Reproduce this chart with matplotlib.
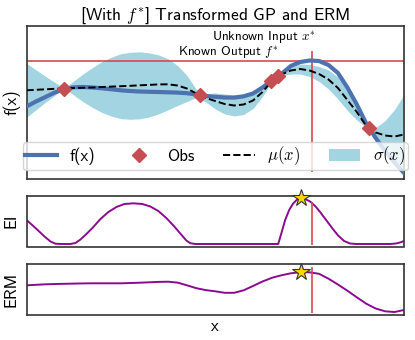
import numpy as np
import matplotlib
matplotlib.use("Agg")
import matplotlib.pyplot as plt

plt.rcParams['font.family'] = ['cmss10', 'DejaVu Sans']
plt.rcParams['mathtext.fontset'] = 'cm'
plt.rcParams['axes.unicode_minus'] = False

# ---------------- data ----------------
x = [0.0, 0.025, 0.05, 0.075, 0.1, 0.125, 0.15, 0.175, 0.2, 0.225,
     0.25, 0.275, 0.3, 0.325, 0.35, 0.375, 0.4, 0.425, 0.45, 0.475,
     0.5, 0.525, 0.55, 0.575, 0.6, 0.625, 0.65, 0.675, 0.7, 0.725,
     0.75, 0.775, 0.8, 0.825, 0.85, 0.875, 0.9, 0.925, 0.95, 0.975, 1.0]

f_true = [-0.65, -0.15, 0.3, 0.75, 1.1, 1.27, 1.3, 1.25, 1.17, 1.07,
          0.97, 0.9, 0.85, 0.82, 0.8, 0.77, 0.74, 0.68, 0.55, 0.4,
          0.32, 0.25, 0.24, 0.37, 0.65, 1.25, 1.95, 2.6, 3.4, 3.8,
          3.95, 3.9, 3.5, 2.7, 1.25, -0.45, -2.35, -3.8, -5.1, -6.25, -7.3]

mu = [0.97, 1.02, 1.07, 1.12, 1.17, 1.2, 1.22, 1.25, 1.3, 1.34,
      1.38, 1.42, 1.47, 1.51, 1.56, 1.57, 1.45, 1.15, 0.65, 0.2,
      -0.1, -0.4, -0.55, -0.45, -0.05, 0.8, 1.9, 2.55, 2.95, 3.1,
      2.95, 2.6, 2.05, 1.2, 0.0, -1.2, -2.6, -3.25, -3.55, -3.65, -3.45]

sigma = [2.7, 2.0, 1.3, 0.65, 0.0, 0.7, 1.4, 2.0, 2.55, 2.95,
         3.25, 3.35, 3.35, 3.2, 2.95, 2.55, 2.0, 1.3, 0.4, 0.4,
         0.8, 1.0, 1.05, 1.0, 0.8, 0.45, 0.05, 0.1, 0.35, 0.5,
         0.6, 0.75, 0.95, 1.1, 1.05, 0.8, 0.15, 0.5, 1.5, 2.7, 4.0]

obs_x = [0.1, 0.4595, 0.647, 0.667, 0.9074]
obs_y = [1.15, 0.5, 1.9, 2.4, -2.8]

ei_x = [0.0, 0.0238, 0.0476, 0.0635, 0.0767, 0.09, 0.1164, 0.1296, 0.1429,
        0.1587, 0.1746, 0.1958, 0.2169, 0.2381, 0.2593, 0.2831, 0.3069,
        0.328, 0.3492, 0.3704, 0.3915, 0.4074, 0.4233, 0.4339, 0.4471,
        0.6667, 0.6746, 0.6852, 0.6958, 0.7063, 0.7169, 0.7275, 0.738,
        0.7513, 0.7646, 0.7778, 0.7937, 0.8095, 0.8254, 0.8413, 0.8571,
        0.873, 0.963, 0.9788, 0.9894, 1.0]
ei = [2.4, 1.6, 0.75, 0.25, 0.03, 0.0, 0.0, 0.1, 0.45,
      1.0, 1.6, 2.5, 3.2, 3.7, 4.0, 4.07, 4.0,
      3.75, 3.3, 2.6, 1.75, 1.05, 0.35, 0.08, 0.0,
      0.0, 1.0, 2.4, 3.4, 4.05, 4.45, 4.57, 4.5,
      4.25, 3.8, 3.2, 2.4, 1.6, 0.85, 0.3, 0.05,
      0.0, 0.0, 0.05, 0.15, 0.3]

erm = [1.47, 1.52, 1.57, 1.6, 1.62, 1.64, 1.66, 1.67, 1.67, 1.67,
       1.67, 1.7, 1.73, 1.77, 1.81, 1.83, 1.74, 1.47, 1.18, 0.99,
       0.87, 0.72, 0.72, 0.97, 1.4, 1.85, 2.22, 2.47, 2.67, 2.78,
       2.77, 2.62, 2.13, 1.55, 0.93, 0.27, -0.37, -0.85, -1.13, -1.2, -1.0]

f_star = 3.95
x_star = 0.756
x_next = 0.728
top_vline = [-7.2, 4.9]
ei_vline = [-0.1, 4.2]
erm_vline = [-1.25, 3.35]

# ---------------- plot ----------------
xa = np.array(x)
fa = np.array(f_true)
mua = np.array(mu)
sa = np.array(sigma)

fig = plt.figure(figsize=(4.15, 3.4), dpi=100)
ax1 = fig.add_axes([0.0639, 0.475, 0.9096, 0.4485])
ax2 = fig.add_axes([0.0639, 0.275, 0.9096, 0.1485])
ax3 = fig.add_axes([0.0639, 0.0735, 0.9096, 0.150])

blue = '#4c72b0'
red = '#c44e52'
band = '#a2d5e1'
purple = '#8b0a8f'
vred = '#d9484f'

ax1.fill_between(xa, mua - sa, mua + sa, color=band, lw=0, label=r'$\sigma(x)$')
ax1.plot(xa, fa, color=blue, lw=3, label='f(x)', zorder=3)
ax1.plot(xa, mua, 'k--', lw=1.4, label=r'$\mu(x)$', zorder=4)
ax1.plot(obs_x, obs_y, 'D', color=red, ms=7, ls='none', label='Obs', zorder=5)
ax1.axhline(f_star, color=vred, lw=1.2, zorder=2)
ax1.vlines(x_star, top_vline[0], top_vline[1], color=vred, lw=1.2, zorder=2)
ax1.text(0.402, 4.45, r'Known Output $f^{*}$', fontsize=9.5, ha='left', va='baseline')
ax1.text(0.767, 5.95, r'Unknown Input $x^{*}$', fontsize=9.5, ha='right', va='baseline')
ax1.set_xlim(0, 1)
ax1.set_ylim(-7.85, 7.4)
ax1.set_ylabel('f(x)', fontsize=12, labelpad=4)
ax1.set_title(r'[With $f^{*}$] Transformed GP and ERM', fontsize=12.5, pad=4)

handles, labels = ax1.get_legend_handles_labels()
order = [labels.index(l) for l in ['f(x)', 'Obs', r'$\mu(x)$', r'$\sigma(x)$']]
ax1.legend([handles[i] for i in order], [labels[i] for i in order],
           ncol=4, loc='lower left', bbox_to_anchor=(-0.01, 0.056, 1.02, 0.1),
           mode='expand', fontsize=12, handlelength=1.9, borderaxespad=0,
           borderpad=0.15, handletextpad=0.75, fancybox=True, framealpha=0.8)

ax2.plot(ei_x, ei, color=purple, lw=1.4)
ax2.vlines(x_star, ei_vline[0], ei_vline[1], color=vred, lw=1.2)
ax2.plot([x_next], [max(ei)], marker='*', ms=13, color='#ffd500',
         mec='#333333', mew=0.8, ls='none', zorder=5, clip_on=False)
ax2.set_xlim(0, 1)
ax2.set_ylim(-0.25, 4.8)
ax2.set_ylabel('EI', fontsize=12, labelpad=6)

ax3.plot(xa, erm, color=purple, lw=1.4)
ax3.vlines(x_star, erm_vline[0], erm_vline[1], color=vred, lw=1.2)
ax3.plot([x_next], [max(erm)], marker='*', ms=13, color='#ffd500',
         mec='#333333', mew=0.8, ls='none', zorder=5, clip_on=False)
ax3.set_xlim(0, 1)
ax3.set_ylim(-1.5, 3.6)
ax3.set_ylabel('ERM', fontsize=12, labelpad=6)
ax3.set_xlabel('x', fontsize=12, labelpad=3)

for ax in (ax1, ax2, ax3):
    ax.set_xticks([])
    ax.set_yticks([])
    for s in ax.spines.values():
        s.set_color('#333333')
        s.set_linewidth(1.2)

fig.savefig('out.png', dpi=100)
